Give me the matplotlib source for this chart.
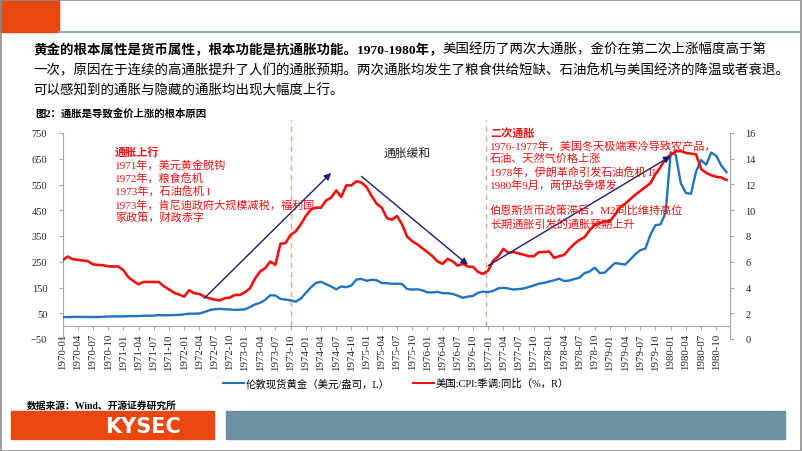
import matplotlib
matplotlib.use("Agg")
import matplotlib.pyplot as plt
from matplotlib.patches import Rectangle
import numpy as np

# ---------------- data ----------------
years = list(range(1970, 1981))
months = [f"{y}-{m:02d}" for y in years for m in range(1, 13)]

gold_1970 = [35.0, 35.0, 35.5, 36.0, 35.5, 35.5, 35.3, 35.4, 36.0, 37.5, 37.5, 37.4]
gold_1971 = [37.9, 38.7, 38.9, 39.0, 40.5, 40.1, 41.0, 42.7, 42.0, 42.5, 42.9, 43.5]
gold_1972 = [45.8, 48.3, 48.3, 49.0, 54.6, 62.1, 65.7, 67.0, 65.5, 64.9, 63.0, 63.9]
gold_1973 = [65.1, 74.2, 84.4, 90.5, 102.0, 120.0, 119.0, 106.0, 103.0, 100.0, 95.0, 106.7]
gold_1974 = [129.0, 150.0, 168.0, 172.0, 163.0, 154.0, 143.0, 154.0, 151.0, 158.0, 181.0, 183.0]
gold_1975 = [176.0, 180.0, 178.0, 167.0, 167.0, 164.0, 165.0, 163.0, 144.0, 142.0, 143.0, 139.0]
gold_1976 = [131.0, 131.0, 133.0, 128.0, 128.0, 125.0, 118.0, 110.0, 115.0, 117.0, 130.0, 134.0]
gold_1977 = [132.0, 137.0, 147.0, 149.0, 146.0, 142.0, 144.0, 146.0, 152.0, 158.0, 165.0, 168.0]
gold_1978 = [173.0, 178.0, 184.0, 175.0, 177.0, 183.0, 188.0, 206.0, 212.0, 227.0, 206.0, 208.0]
gold_1979 = [227.0, 245.0, 242.0, 239.0, 258.0, 279.0, 295.0, 301.0, 355.0, 392.0, 395.0, 440.0]
gold_1980 = [675.0, 665.0, 554.0, 517.0, 514.0, 600.0, 645.0, 627.0, 674.0, 661.0, 623.0, 598.0]

cpi_1970 = [6.10, 6.40, 6.20, 6.15, 6.10, 6.05, 5.80, 5.75, 5.73, 5.65, 5.63, 5.63]
cpi_1971 = [5.35, 4.80, 4.50, 4.25, 4.43, 4.43, 4.43, 4.43, 4.10, 3.85, 3.60, 3.45]
cpi_1972 = [3.29, 3.79, 3.55, 3.50, 3.29, 3.16, 3.06, 3.00, 3.16, 3.21, 3.42, 3.42]
cpi_1973 = [3.63, 3.94, 4.70, 5.25, 5.50, 6.02, 5.76, 7.39, 7.45, 8.09, 8.35, 8.90]
cpi_1974 = [9.55, 10.06, 10.20, 10.20, 10.76, 10.97, 11.54, 11.03, 11.93, 11.93, 12.25, 12.15]
cpi_1975 = [11.80, 11.10, 10.50, 10.20, 9.40, 9.26, 9.55, 8.90, 7.95, 7.60, 7.35, 7.05]
cpi_1976 = [6.75, 6.43, 6.02, 5.84, 6.23, 6.02, 5.70, 5.84, 5.63, 5.60, 5.20, 5.06]
cpi_1977 = [5.32, 6.09, 6.43, 7.00, 6.69, 6.75, 6.65, 6.55, 6.43, 6.43, 6.75, 6.75]
cpi_1978 = [6.80, 6.30, 6.43, 6.54, 7.00, 7.40, 7.70, 7.90, 8.45, 8.85, 9.00, 9.12]
cpi_1979 = [9.15, 9.64, 10.23, 10.50, 10.85, 11.20, 11.50, 11.80, 12.10, 12.80, 13.36, 14.00]
cpi_1980 = [14.30, 14.57, 14.60, 14.45, 14.40, 14.34, 13.20, 12.90, 12.72, 12.60, 12.54, 12.35]

gold = (gold_1970 + gold_1971 + gold_1972 + gold_1973 + gold_1974 + gold_1975 +
        gold_1976 + gold_1977 + gold_1978 + gold_1979 + gold_1980)
cpi = (cpi_1970 + cpi_1971 + cpi_1972 + cpi_1973 + cpi_1974 + cpi_1975 +
       cpi_1976 + cpi_1977 + cpi_1978 + cpi_1979 + cpi_1980)

gold_label = "伦敦现货黄金（美元/盎司，L）"
cpi_label = "美国:CPI:季调:同比（%，R）"

left_ticks = list(range(-50, 751, 100))
right_ticks = list(range(0, 17, 2))

# phase markers (month labels) and arrows (month, CPI value)
phase_lines = ["1973-10", "1977-01"]
arrows = [(("1972-05", 3.17), ("1974-06", 12.9)),
          (("1974-12", 12.63), ("1976-09", 5.76)),
          (("1977-01", 5.7), ("1980-01", 14.2))]

# ---------------- styling ----------------
W, H = 802, 452
SERIF_CJK = ["Liberation Serif", "Noto Sans CJK SC"]
plt.rcParams["font.family"] = SERIF_CJK
RED = "#F01010"
BLUE = "#1F74BC"
NAVY = "#1C1C78"
ORANGE = "#E8470F"
SPINE = "#A6A6A6"

def px(x, y):
    return (x / W, 1 - y / H)

fig = plt.figure(figsize=(W / 100, H / 100), dpi=100)

# slide decorations
fig.patches.append(Rectangle(px(0, 33), 59 / W, 33 / H, transform=fig.transFigure,
                             color=ORANGE, zorder=0))
fig.lines.append(plt.Line2D([59 / W, 800 / W], [1 - 33 / H, 1 - 33 / H],
                            transform=fig.transFigure, color="#8EA5B5", lw=1.5))
fig.patches.append(Rectangle((0.5 / W, 0.5 / H), (W - 1.5) / W, (H - 1.5) / H,
                             transform=fig.transFigure, fill=False,
                             edgecolor="#8C8C8C", lw=1.2, zorder=0))
fig.patches.append(Rectangle(px(11, 439.5), 203 / W, 27.5 / H, transform=fig.transFigure,
                             color=ORANGE, zorder=0))
fig.patches.append(Rectangle(px(226, 439.5), 559 / W, 27.5 / H, transform=fig.transFigure,
                             color="#6D8FA3", zorder=0))
fig.text(*px(143, 427), "KYSEC", color="white", fontsize=15, fontweight="bold",
         family=["DejaVu Sans"], ha="center", va="center")
fig.text(*px(27, 406), "数据来源：Wind、开源证券研究所", fontsize=7, fontweight="bold",
         ha="left", va="center")

# body text
t1 = fig.text(*px(33, 50), "黄金的根本属性是货币属性，根本功能是抗通胀功能。1970-1980年，",
              fontsize=9.7, fontweight="bold", ha="left", va="center")
fig.canvas.draw()
bb = t1.get_window_extent()
fig.text(bb.x1 / W, 1 - 50 / H, "美国经历了两次大通胀，金价在第二次上涨幅度高于第",
         fontsize=9.7, ha="left", va="center")
fig.text(*px(33, 71), "一次，原因在于连续的高通胀提升了人们的通胀预期。两次通胀均发生了粮食供给短缺、石油危机与美国经济的降温或者衰退。",
         fontsize=9.7, ha="left", va="center")
fig.text(*px(33, 91), "可以感知到的通胀与隐藏的通胀均出现大幅度上行。",
         fontsize=9.7, ha="left", va="center")
fig.text(*px(35, 113), "图2：通胀是导致金价上涨的根本原因", fontsize=7.5, fontweight="bold",
         ha="left", va="center")

# ---------------- chart ----------------
ax_left, ax_right, ax_top, ax_bot = 62.5, 730, 134, 340
ax = fig.add_axes([ax_left / W, 1 - ax_bot / H, (ax_right - ax_left) / W, (ax_bot - ax_top) / H])
ax.patch.set_alpha(0)
x = np.arange(len(months))
ax.plot(x, gold, color=BLUE, lw=1.7, label=gold_label, zorder=3)
ax.set_ylim(-50, 750)
ax.set_xlim(0, len(months) - 0.3)
ax.set_yticks(left_ticks)

ax2 = ax.twinx()
ax2.plot(x, cpi, color=RED, lw=1.9, label=cpi_label, zorder=4)
ax2.set_ylim(0, 16)
ax2.set_yticks(right_ticks)

ax.set_xticks(x[::3])
ax.set_xticklabels(months[::3])
ax.tick_params(axis="y", labelsize=7.5, length=3, color=SPINE, pad=8, labelcolor="#222222")
ax.tick_params(axis="x", labelsize=7.8, length=3, color=SPINE, pad=2,
               labelcolor="#222222", labelrotation=90)
ax.spines["top"].set_visible(False)
ax.spines["right"].set_visible(False)
ax.spines["left"].set_color(SPINE)
ax.spines["bottom"].set_color(SPINE)
ax.spines["bottom"].set_position(("data", 0))

ax2.tick_params(axis="y", labelsize=7.5, length=3, color=SPINE, pad=8, labelcolor="#222222")
for s in ["top", "left", "bottom"]:
    ax2.spines[s].set_visible(False)
ax2.spines["right"].set_color(SPINE)

# phase dividers
for m in phase_lines:
    xi = months.index(m) - (0.5 if m == "1977-01" else 0)
    ax.plot([xi, xi], [0, 800], color="#F4A47C", lw=1.0, ls=(0, (4, 3)),
            clip_on=False, zorder=2)

# arrows
for (m0, v0), (m1, v1) in arrows:
    ax2.annotate("", xy=(months.index(m1), v1), xytext=(months.index(m0), v0),
                 arrowprops=dict(arrowstyle="-|>", color=NAVY, lw=1.0,
                                 mutation_scale=10, shrinkA=0, shrinkB=0), zorder=5)

# annotation text
left_notes = ["1971年，美元黄金脱钩", "1972年，粮食危机", "1973年，石油危机 I",
              "1973年，肯尼迪政府大规模减税，福利国", "家政策，财政赤字"]
fig.text(*px(115, 152), "通胀上行", color=RED, fontsize=8, fontweight="bold",
         ha="left", va="center")
for k, s in enumerate(left_notes):
    fig.text(*px(115, 165 + 13.3 * k), s, color=RED, fontsize=8,
             ha="left", va="center")

fig.text(*px(407, 154), "通胀缓和", color="#222222", fontsize=8.5,
         ha="center", va="center")

right_notes = ["1976-1977年，美国冬天极端寒冷导致农产品，", "石油、天然气价格上涨",
               "1978年，伊朗革命引发石油危机 II", "1980年9月，两伊战争爆发", "",
               "伯恩斯货币政策滞后，M2同比维持高位", "长期通胀引发的通胀预期上升"]
fig.text(*px(490, 133), "二次通胀", color=RED, fontsize=8, fontweight="bold",
         ha="left", va="center")
for k, s in enumerate(right_notes):
    if s:
        fig.text(*px(490, 146 + 13.1 * k), s, color=RED, fontsize=8,
                 ha="left", va="center")

# legend
h1, l1 = ax.get_legend_handles_labels()
h2, l2 = ax2.get_legend_handles_labels()
leg = fig.legend(h1 + h2, l1 + l2, loc="center", bbox_to_anchor=px(396, 384),
                 ncol=2, frameon=False, handlelength=2.0, handletextpad=0.2,
                 columnspacing=2.2, prop={"size": 7.5})
for ln in leg.get_lines():
    ln.set_linewidth(1.5)

fig.savefig("out.png", dpi=100)
